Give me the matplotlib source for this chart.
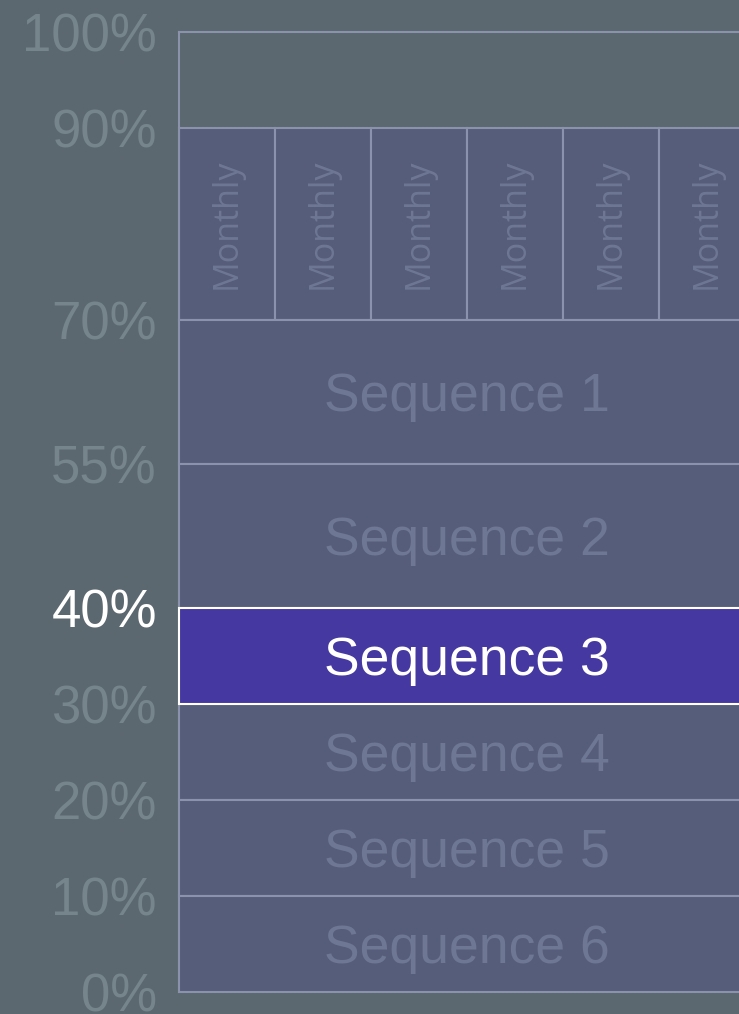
import matplotlib.pyplot as plt
from matplotlib.patches import Rectangle

# bands: (label, low %, high %)
seq_labels = ["Sequence 1", "Sequence 2", "Sequence 3", "Sequence 4", "Sequence 5", "Sequence 6"]
seq_low = [55, 40, 30, 20, 10, 0]
seq_high = [70, 55, 40, 30, 20, 10]
highlight = "Sequence 3"

monthly_low, monthly_high = 70, 90
monthly_count = 6
monthly_label = "Monthly"

tick_vals = [0, 10, 20, 30, 40, 55, 70, 90, 100]
tick_labels = ["0%", "10%", "20%", "30%", "40%", "55%", "70%", "90%", "100%"]
active_tick = "40%"

bg = "#5c6870"
cell = "#565d7a"
line = "#8a92ac"
faint = "#76848b"
seq_txt = "#6e7793"
hi_fill = "#4538a0"

W, H = 739, 1014
fig = plt.figure(figsize=(W / 100, H / 100), dpi=100, facecolor=bg)
ax = fig.add_axes([179 / W, 22 / H, 576 / W, 960 / H])
ax.set_facecolor(bg)
ax.set_xlim(0, monthly_count)
ax.set_ylim(0, 100)
for s in ax.spines.values():
    s.set_visible(False)

lw = 1.5
# top frame line at 100% and left edge
ax.plot([0, monthly_count], [100, 100], color=line, lw=lw, clip_on=False)
ax.plot([0, 0], [0, 100], color=line, lw=lw, clip_on=False)

font = "Liberation Sans"
fs = 38.5
for lab, lo, hi in zip(seq_labels, seq_low, seq_high):
    on = lab == highlight
    ax.add_patch(Rectangle((0, lo), monthly_count, hi - lo,
                           facecolor=hi_fill if on else cell,
                           edgecolor="white" if on else line, lw=lw,
                           clip_on=False, zorder=3 if on else 2))
    ax.text(monthly_count / 2, (lo + hi) / 2, lab, ha="center", va="center_baseline",
            fontsize=fs, color="white" if on else seq_txt, family=font, zorder=4)

for i in range(monthly_count):
    ax.add_patch(Rectangle((i, monthly_low), 1, monthly_high - monthly_low,
                           facecolor=cell, edgecolor=line, lw=lw, clip_on=False))
    ax.text(i + 0.5, (monthly_low + monthly_high) / 2, monthly_label, rotation=90,
            ha="center", va="center", fontsize=24.5, color=seq_txt, family="Open Sans")

ax.set_xticks([])
ax.set_yticks(tick_vals)
ax.set_yticklabels(tick_labels, fontsize=38, family=font)
ax.tick_params(axis="y", length=0, pad=16)
for t in ax.get_yticklabels():
    t.set_color("white" if t.get_text() == active_tick else faint)
    t.set_verticalalignment("center_baseline")

fig.savefig("out.png", dpi=100, facecolor=bg)
